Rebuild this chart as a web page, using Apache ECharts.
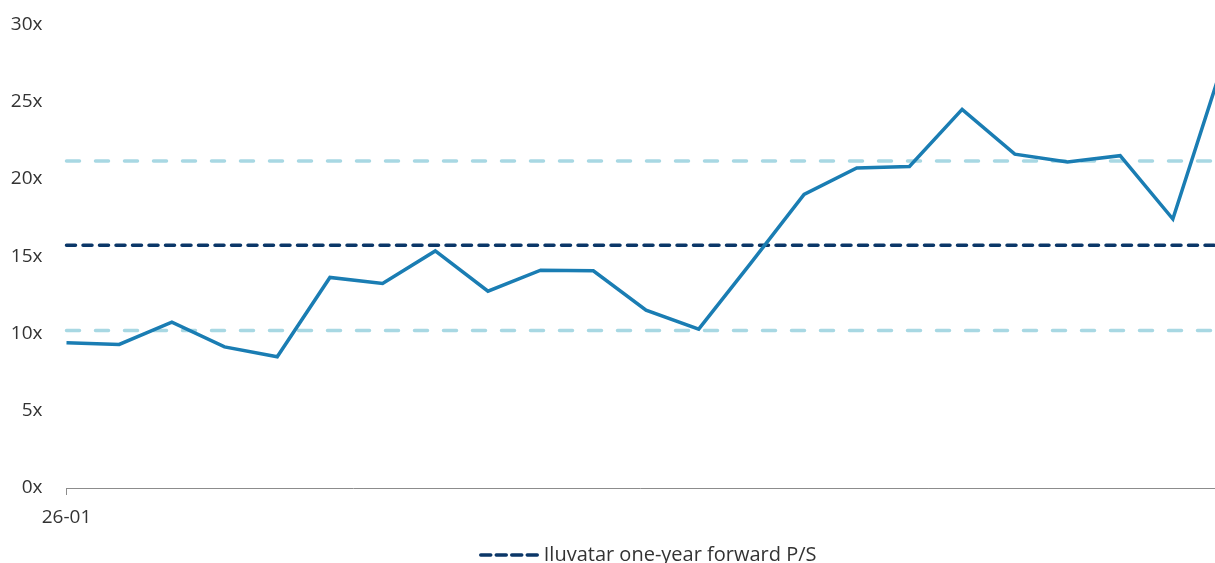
<!DOCTYPE html>
<html>
<head>
<meta charset="utf-8">
<script src="https://cdn.jsdelivr.net/npm/echarts@6/dist/echarts.min.js"></script>
<style>
html,body{margin:0;padding:0;background:#fff;}
#chart{width:1215px;height:563px;}
</style>
</head>
<body>
<div id="chart"></div>
<script>
// Data
const categories = ['26-01','w2','w3','w4','w5','w6','w7','w8','w9','w10','w11','w12','w13','w14','w15','w16','w17','w18','w19','w20','w21','w22','w23'];
const psValues = [9.39, 9.29, 10.73, 9.13, 8.49, 13.62, 13.23, 15.34, 12.73, 14.09, 14.05, 11.5, 10.28, 14.6, 19.0, 20.7, 20.8, 24.5, 21.6, 21.1, 21.5, 17.4, 28.0];
const meanValue = 15.7;
const upperValue = 21.16;
const lowerValue = 10.19;
const legendName = 'Iluvatar one-year forward P/S';
const yTicks = [0, 5, 10, 15, 20, 25, 30];

const FONT = '"Open Sans", sans-serif';
const flat = v => categories.map((c, i) => [i, v]);
const psData = psValues.map((v, i) => [i, v]);

const chart = echarts.init(document.getElementById('chart'), null, {renderer: 'canvas'});
chart.setOption({
  animation: false,
  backgroundColor: '#ffffff',
  grid: {left: 66.5, right: 0, top: 24.3, bottom: 75, containLabel: false},
  legend: {
    data: [legendName],
    left: 474,
    top: 540,
    itemWidth: 58,
    itemHeight: 12,
    itemGap: 6,
    itemStyle: {opacity: 0},
    lineStyle: {type: [10, 5.5], width: 3.5, cap: 'round', color: '#0b3768'},
    textStyle: {fontFamily: FONT, fontSize: 20, color: '#333333'}
  },
  xAxis: {
    type: 'value',
    min: 0,
    max: 21.8,
    interval: 100,
    axisLine: {show: true, onZero: false, lineStyle: {color: '#8c8c8c', width: 1}},
    axisTick: {show: true, length: 7, lineStyle: {color: '#8c8c8c'}},
    axisLabel: {
      showMaxLabel: false,
      formatter: v => (v === 0 ? categories[0] : ''),
      fontFamily: FONT, fontSize: 19, color: '#333333', margin: 20
    },
    splitLine: {show: false}
  },
  yAxis: {
    type: 'value',
    min: yTicks[0],
    max: yTicks[yTicks.length - 1],
    interval: 5,
    axisLine: {show: false},
    axisTick: {show: false},
    splitLine: {show: false},
    axisLabel: {
      formatter: v => v + 'x',
      fontFamily: FONT, fontSize: 19, color: '#333333', margin: 24
    }
  },
  series: [
    {
      name: legendName,
      type: 'line',
      data: flat(meanValue),
      symbol: 'none',
      clip: true,
      lineStyle: {color: '#0b3768', width: 3.5, type: [9, 7.5], cap: 'round'},
      itemStyle: {color: '#0b3768'},
      z: 3
    },
    {
      name: 'upper',
      type: 'line',
      data: flat(upperValue),
      symbol: 'none',
      clip: true,
      lineStyle: {color: '#a8d8e3', width: 3.5, type: [13, 16], cap: 'round'},
      z: 2
    },
    {
      name: 'lower',
      type: 'line',
      data: flat(lowerValue),
      symbol: 'none',
      clip: true,
      lineStyle: {color: '#a8d8e3', width: 3.5, type: [13, 16], cap: 'round'},
      z: 2
    },
    {
      name: 'P/S',
      type: 'line',
      data: psData,
      symbol: 'none',
      clip: true,
      lineStyle: {color: '#1a7db3', width: 3.5, join: 'miter'},
      z: 4
    }
  ]
});
</script>
</body>
</html>
